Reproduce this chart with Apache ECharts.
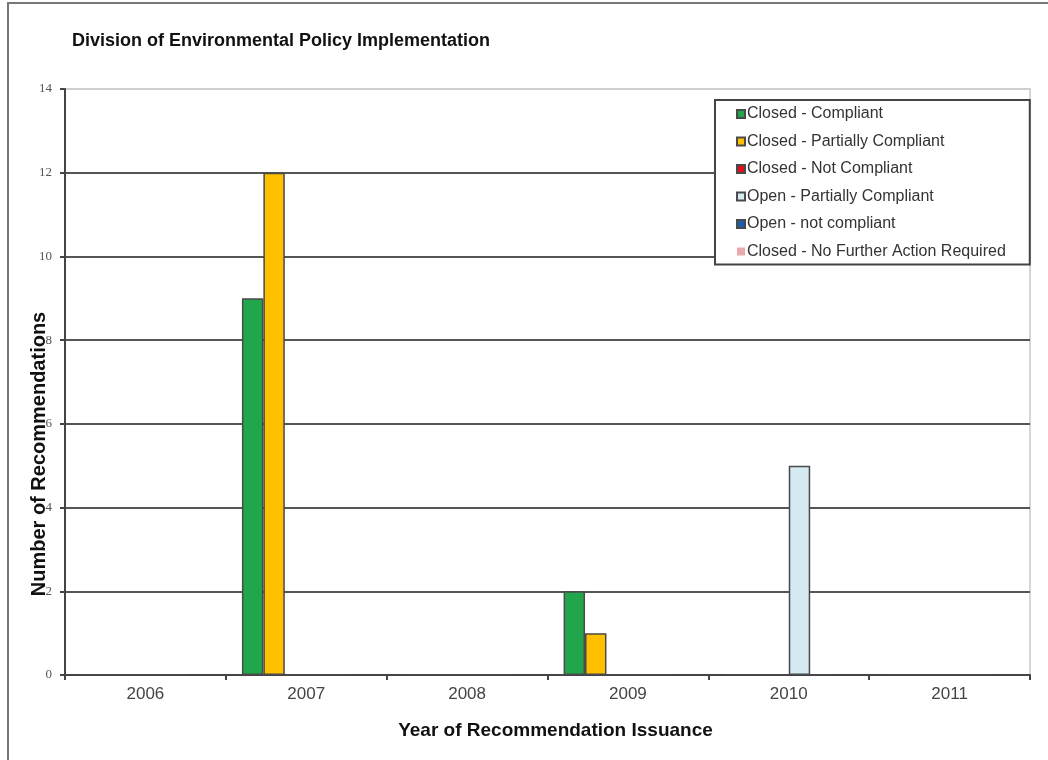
<!DOCTYPE html>
<html>
<head>
<meta charset="utf-8">
<script src="https://cdn.jsdelivr.net/npm/echarts@6/dist/echarts.min.js"></script>
<style>html,body{margin:0;padding:0;background:#fff}#c{width:1048px;height:760px}</style>
</head>
<body>
<div id="c"></div>
<script>
const categories = ['2006', '2007', '2008', '2009', '2010', '2011'];
const seriesNames = ['Closed - Compliant', 'Closed - Partially Compliant', 'Closed - Not Compliant', 'Open - Partially Compliant', 'Open - not compliant', 'Closed - No Further Action Required'];
const closedCompliant = [0, 9, 0, 2, 0, 0];
const closedPartial = [0, 12, 0, 1, 0, 0];
const closedNot = [0, 0, 0, 0, 0, 0];
const openPartial = [0, 0, 0, 0, 5, 0];
const openNot = [0, 0, 0, 0, 0, 0];
const closedNoFurther = [0, 0, 0, 0, 0, 0];
const seriesValues = [closedCompliant, closedPartial, closedNot, openPartial, openNot, closedNoFurther];
const colors = ['#22A64B', '#FFC000', '#E0101C', '#D4E9F2', '#1F5EAE', '#E9A9AE'];
const borders = ['#4a4a4a', '#4a4a4a', '#4a4a4a', '#4a4a4a', '#4a4a4a', 'transparent'];

const chart = echarts.init(document.getElementById('c'));
const series = seriesNames.map((n, i) => ({
  name: n,
  type: 'bar',
  data: seriesValues[i],
  barGap: '0%',
  barCategoryGap: '20%',
  itemStyle: { color: colors[i], borderColor: borders[i], borderWidth: 1.5 },
  emphasis: { disabled: true }
}));

chart.setOption({
  animation: false,
  backgroundColor: '#fff',
  title: {
    text: 'Division of Environmental Policy Implementation',
    left: 67, top: 27,
    textStyle: { fontFamily: 'Arial, Liberation Sans', fontWeight: 'bold', fontSize: 18, color: '#111' }
  },
  grid: { left: 65, right: 18, top: 89, bottom: 85, show: true, borderColor: '#c8c8c8', borderWidth: 1.5 },
  legend: {
    orient: 'vertical',
    left: 715, top: 100,
    data: seriesNames,
    itemWidth: 8, itemHeight: 8, itemGap: 11.5,
    icon: 'rect',
    padding: [6, 24, 5, 21],
    backgroundColor: '#fff',
    borderColor: '#444', borderWidth: 2,
    textStyle: { fontFamily: 'Arial, Liberation Sans', fontSize: 16, color: '#333', padding: [0, 0, 0, -3] }
  },
  xAxis: {
    type: 'category',
    data: categories,
    name: 'Year of Recommendation Issuance',
    nameLocation: 'middle',
    nameGap: 46,
    nameTextStyle: { fontFamily: 'Arial, Liberation Sans', fontWeight: 'bold', fontSize: 19, color: '#111', padding: [0, 0, 0, 16] },
    axisLine: { lineStyle: { color: '#444', width: 2 } },
    axisTick: { show: true, length: 5, lineStyle: { color: '#444', width: 2 } },
    axisLabel: { margin: 11, fontFamily: 'Arial, Liberation Sans', fontSize: 17, color: '#444' }
  },
  yAxis: {
    type: 'value',
    min: 0, max: 14, interval: 2,
    axisLine: { show: true, lineStyle: { color: '#444', width: 2 } },
    axisTick: { show: true, length: 5, lineStyle: { color: '#444', width: 2 } },
    axisLabel: { margin: 13, fontFamily: 'Liberation Serif, serif', fontSize: 13, color: '#555' },
    splitLine: { lineStyle: { color: ['#555', '#555', '#555', '#555', '#555', '#555', '#555', '#cfcfcf'], width: 2 } }
  },
  graphic: [
    { type: 'polyline', shape: { points: [[8, 762], [8, 3], [1050, 3]] }, style: { stroke: '#777', lineWidth: 2, fill: null }, z: 100 },
    { type: 'text', x: 39, y: 454, rotation: Math.PI / 2,
      style: { text: 'Number of Recommendations', fontFamily: 'Arial, Liberation Sans', fontWeight: 'bold', fontSize: 20, fill: '#111', align: 'center', verticalAlign: 'middle' }, z: 100 }
  ],
  series: series
});
</script>
</body>
</html>
